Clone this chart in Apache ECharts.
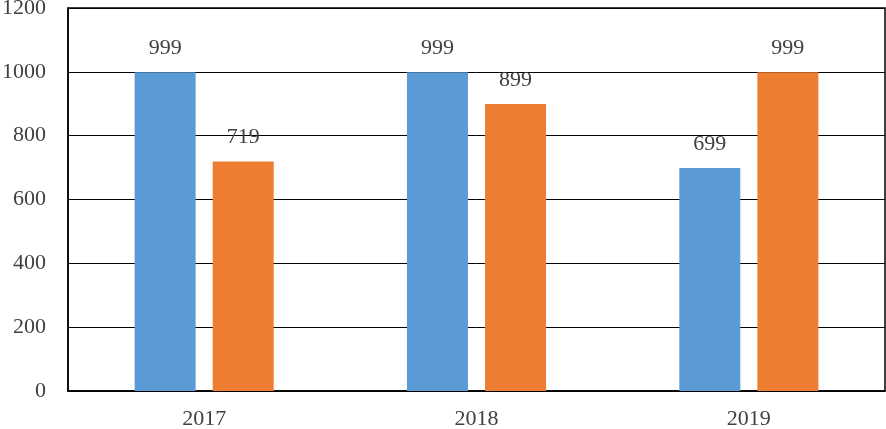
<!DOCTYPE html>
<html>
<head>
<meta charset="utf-8">
<script src="https://cdn.jsdelivr.net/npm/echarts@6/dist/echarts.min.js"></script>
<style>
html, body { margin: 0; padding: 0; background: #fff; }
#main { width: 886px; height: 429px; }
</style>
</head>
<body>
<div id="main"></div>
<script>
var years = ['2017', '2018', '2019'];
var seriesA = [999, 999, 699];
var seriesB = [719, 899, 999];

var font = '"Liberation Serif", "Times New Roman", serif';
var myChart = echarts.init(document.getElementById('main'));
var option = {
	animation: false,
	grid: {
		left: 68, right: 1, top: 8, bottom: 38,
		outerBoundsMode: 'none', containLabel: false,
		show: true, borderColor: '#000', borderWidth: 1.5
	},
	xAxis: {
		type: 'category',
		data: years,
		axisLine: { lineStyle: { color: '#000', width: 1.5 } },
		axisTick: { show: false },
		axisLabel: { color: '#404040', fontFamily: font, fontSize: 22, margin: 17 }
	},
	yAxis: {
		type: 'value',
		min: 0, max: 1200, interval: 200,
		axisLine: { show: true, lineStyle: { color: '#000', width: 1.5 } },
		splitLine: { lineStyle: { color: '#000', width: 1 } },
		axisLabel: {
			color: '#404040', fontFamily: font, fontSize: 22, margin: 22,
			formatter: function (v) { return String(v); }
		}
	},
	series: [
		{
			type: 'bar', data: seriesA, barWidth: 61, barGap: '28%',
			itemStyle: { color: '#5B9BD5' },
			label: { show: true, position: 'top', distance: 13, color: '#404040', fontFamily: font, fontSize: 22 }
		},
		{
			type: 'bar', data: seriesB, barWidth: 61,
			itemStyle: { color: '#ED7D31' },
			label: { show: true, position: 'top', distance: 13, color: '#404040', fontFamily: font, fontSize: 22 }
		}
	]
};
myChart.setOption(option);
</script>
</body>
</html>
